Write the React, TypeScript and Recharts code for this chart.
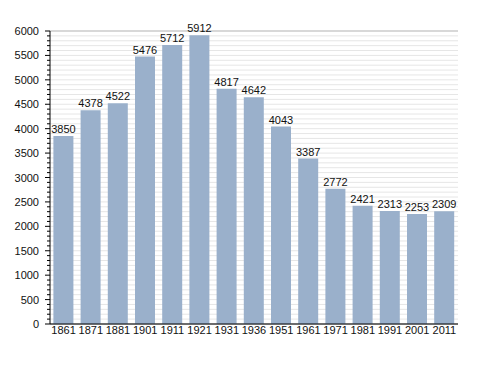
import { BarChart, Bar, XAxis, YAxis, CartesianGrid, LabelList } from "recharts";

const years = ["1861", "1871", "1881", "1901", "1911", "1921", "1931", "1936", "1951", "1961", "1971", "1981", "1991", "2001", "2011"];
const population = [3850, 4378, 4522, 5476, 5712, 5912, 4817, 4642, 4043, 3387, 2772, 2421, 2313, 2253, 2309];
const yTicks = Array.from({ length: 61 }, (_, i) => i * 100);
const majorTicks = yTicks.filter((v) => v % 500 === 0);

const data = years.map((year, i) => ({ year, pop: population[i] }));

const font = "Liberation Sans, Arial, sans-serif";

// recharts puts the tick text at axis - tickSize - tickMargin, so the axis sits 8px right of x
function YTick(props: any) {
  const { x, y, payload } = props;
  const major = payload.value % 500 === 0;
  const ax = x + 8;
  return (
    <g>
      <line x1={ax - (major ? 5 : 3)} x2={ax} y1={y} y2={y} stroke="#000" strokeWidth={1} />
      {major && (
        <text x={ax - 11} y={y} dy={4} textAnchor="end" fontSize={11} fontFamily={font} fill="#111">
          {payload.value}
        </text>
      )}
    </g>
  );
}

export default function App() {
  return (
    <div style={{ position: "absolute", left: 0, top: 0, background: "#fff" }}>
      <BarChart
        width={488}
        height={373}
        data={data}
        margin={{ top: 31, right: 30, bottom: 29, left: 0 }}
        barCategoryGap="12.5%"
      >
        <CartesianGrid vertical={false} stroke="#e6e6e6" />
        <CartesianGrid vertical={false} stroke="#bdbdbd" yAxisId="major" />
        <XAxis
          dataKey="year"
          height={20}
          tickLine={false}
          tickSize={0}
          tickMargin={2}
          axisLine={{ stroke: "#000" }}
          tick={{ fontSize: 11, fontFamily: font, fill: "#111" }}
          interval={0}
        />
        <YAxis
          width={50}
          domain={[0, 6000]}
          ticks={yTicks}
          interval={0}
          tickLine={false}
          axisLine={{ stroke: "#000" }}
          tick={<YTick />}
        />
        <YAxis yAxisId="major" hide domain={[0, 6000]} ticks={majorTicks} interval={0} />
        <Bar dataKey="pop" fill="#9ab0cb" isAnimationActive={false}>
          <LabelList dataKey="pop" position="top" offset={3} fontSize={11} fontFamily={font} fill="#111" />
        </Bar>
      </BarChart>
    </div>
  );
}
